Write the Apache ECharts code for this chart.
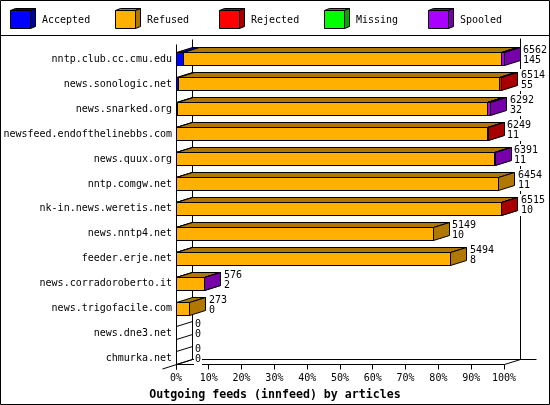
<!DOCTYPE html>
<html><head><meta charset="utf-8">
<script src="https://cdn.jsdelivr.net/npm/echarts@6/dist/echarts.min.js"></script>
<style>html,body{margin:0;padding:0;background:#fff}#c{width:550px;height:405px}</style>
</head><body><div id="c"></div>
<script>
const categories = ['nntp.club.cc.cmu.edu','news.sonologic.net','news.snarked.org','newsfeed.endofthelinebbs.com','news.quux.org','nntp.comgw.net','nk-in.news.weretis.net','news.nntp4.net','feeder.erje.net','news.corradoroberto.it','news.trigofacile.com','news.dne3.net','chmurka.net'];
const offered  = [6562,6514,6292,6249,6391,6454,6515,5149,5494,576,273,0,0];
const accepted = [145,55,32,11,11,11,10,10,8,2,0,0,0];
const refused  = [6357,6419,6190,6228,6370,6443,6495,5139,5486,569,273,0,0];
const rejected = [0,40,15,10,0,0,10,0,0,0,0,0,0];
const missing  = [0,0,0,0,0,0,0,0,0,0,0,0,0];
const spooled  = [60,0,55,0,10,0,0,0,0,5,0,0,0];
const seriesNames = ['Accepted','Refused','Rejected','Missing','Spooled'];
const frontColors = ['#0000ff','#ffb000','#ff0000','#00ff00','#aa00ff'];
const darkColors  = ['#0000a8','#b07800','#a80000','#00a800','#7700aa'];
const xTicks = [0,10,20,30,40,50,60,70,80,90,100];
const titleText = 'Outgoing feeds (innfeed) by articles';

const FONT = '"DejaVu Sans Mono", monospace';
const DX = 16, DY = 5, HH = 6.5;
const segs = [accepted, refused, rejected, missing, spooled];
const maxOff = Math.max(...offered);
const r = v => Math.round(v - 0.5) + 0.5;

const starts = segs.map(() => []);
const ends = segs.map(() => []);
categories.forEach((c, i) => {
  let acc = 0;
  segs.forEach((arr, k) => {
    starts[k][i] = acc / maxOff * 100;
    acc += arr[i];
    ends[k][i] = acc / maxOff * 100;
  });
});
const totalEnd = categories.map((c, i) => ends[4][i]);

function boxSeries(k) {
  return {
    type: 'custom', name: seriesNames[k], z: 3 + k,
    encode: { x: [0, 1], y: 2 },
    data: categories.map((c, i) => [starts[k][i], ends[k][i], i]),
    renderItem: function (params, api) {
      const s = api.value(0), e = api.value(1), idx = api.value(2);
      const p0 = api.coord([s, idx]), p1 = api.coord([e, idx]);
      const x0 = r(p0[0]), x1 = r(p1[0]);
      const yt = r(p0[1] - HH), yb = r(p0[1] + HH);
      if (e - s <= 0) {
        if (k === 0 && offered[idx] === 0) {
          return { type: 'group', children: [
            { type: 'line', shape: { x1: x0, y1: yt, x2: x0 + DX, y2: yt - DY }, style: { stroke: '#000', lineWidth: 1 } },
            { type: 'line', shape: { x1: x0, y1: yb, x2: x0 + DX, y2: yb - DY }, style: { stroke: '#000', lineWidth: 1 } }
          ] };
        }
        return null;
      }
      const st = { stroke: '#000', lineWidth: 1 };
      return { type: 'group', children: [
        { type: 'polygon', shape: { points: [[x0, yt], [x0 + DX, yt - DY], [x1 + DX, yt - DY], [x1, yt]] }, style: Object.assign({ fill: darkColors[k] }, st) },
        { type: 'polygon', shape: { points: [[x1, yt], [x1 + DX, yt - DY], [x1 + DX, yb - DY], [x1, yb]] }, style: Object.assign({ fill: darkColors[k] }, st) },
        { type: 'rect', shape: { x: x0, y: yt, width: x1 - x0, height: yb - yt }, style: Object.assign({ fill: frontColors[k] }, st) }
      ] };
    }
  };
}

const frameSeries = {
  type: 'custom', z: 1, silent: true,
  encode: { x: 0, y: 1 },
  data: [[0, 0]],
  renderItem: function (params, api) {
    const n = categories.length;
    const xL = r(api.coord([0, 0])[0]);
    const xR = r(api.coord([100, 0])[0]);
    const yTop = r(api.coord([0, 0])[1] - HH - 8);
    const yF = r(api.coord([0, n - 1])[1] + HH);
    const st = { stroke: '#000', lineWidth: 1 };
    const L = (a, b, c, d) => ({ type: 'line', shape: { x1: a, y1: b, x2: c, y2: d }, style: st });
    const ch = [
      L(xL, yTop, xL, yF + 5),
      L(xL + DX, yTop - DY, xL + DX, yF - DY),
      L(xR + DX, yTop - DY - 1, xR + DX, yF - DY),
      L(xL + DX, yF - DY, xR + 2 * DX, yF - DY),
      L(xL, yF, xR, yF),
      L(xL - 14, yF + 4.5, xL + DX, yF - DY),
      L(xR, yF, xR + DX, yF - DY)
    ];
    xTicks.forEach(t => { const x = r(api.coord([t, 0])[0]); ch.push(L(x, yF, x, yF + 5)); });
    return { type: 'group', children: ch };
  }
};

const labelSeries = {
  type: 'custom', z: 20, silent: true,
  encode: { x: 0, y: 1 },
  data: categories.map((c, i) => [totalEnd[i], i]),
  renderItem: function (params, api) {
    const idx = api.value(1);
    const p = api.coord([api.value(0), idx]);
    return { type: 'text', style: {
      text: offered[idx] + '\n' + accepted[idx],
      x: Math.round(p[0]) + DX + 2, y: Math.round(p[1]) - 15,
      font: '10px ' + FONT, fill: '#000', lineHeight: 10.5,
      align: 'left', verticalAlign: 'top',
      backgroundColor: '#fff', padding: [1, 1, 0, 1]
    } };
  }
};

const legendGraphics = [];
seriesNames.forEach((nm, k) => {
  const x0 = 10.5 + Math.round(k * 104.5), y0 = 10.5;
  legendGraphics.push(
    { type: 'polygon', shape: { points: [[x0, y0], [x0 + 5, y0 - 2], [x0 + 25, y0 - 2], [x0 + 20, y0]] }, style: { fill: darkColors[k], stroke: '#000', lineWidth: 1 } },
    { type: 'polygon', shape: { points: [[x0 + 20, y0], [x0 + 25, y0 - 2], [x0 + 25, y0 + 16], [x0 + 20, y0 + 18]] }, style: { fill: darkColors[k], stroke: '#000', lineWidth: 1 } },
    { type: 'rect', shape: { x: x0, y: y0, width: 20, height: 18 }, style: { fill: frontColors[k], stroke: '#000', lineWidth: 1 } },
    { type: 'text', x: x0 + 31.5, y: 20, style: { text: nm, font: '10px ' + FONT, fill: '#000', verticalAlign: 'middle' } }
  );
});

const chart = echarts.init(document.getElementById('c'), null, { renderer: 'canvas' });
chart.setOption({
  animation: false,
  backgroundColor: '#fff',
  title: { text: titleText, left: 'center', top: 384, textStyle: { fontFamily: FONT, fontWeight: 'bold', fontSize: 11.6, color: '#000' } },
  grid: { left: 176, right: 46, top: 47.05, bottom: 34.25, containLabel: false },
  xAxis: { type: 'value', min: 0, max: 100, interval: 10,
    axisLine: { show: false }, axisTick: { show: false }, splitLine: { show: false },
    axisLabel: { formatter: '{value}%', margin: 3, fontFamily: FONT, fontSize: 10, color: '#000' } },
  yAxis: { type: 'category', data: categories, inverse: true,
    axisLine: { show: false }, axisTick: { show: false }, splitLine: { show: false },
    axisLabel: { margin: 4, fontFamily: FONT, fontSize: 10, color: '#000' } },
  graphic: [
    { type: 'rect', shape: { x: 0.5, y: 0.5, width: 549, height: 404 }, style: { fill: null, stroke: '#000', lineWidth: 1 }, z: 100 },
    { type: 'line', shape: { x1: 0, y1: 35.5, x2: 550, y2: 35.5 }, style: { stroke: '#000', lineWidth: 1 } }
  ].concat(legendGraphics),
  series: [frameSeries].concat(seriesNames.map((n, k) => boxSeries(k))).concat([labelSeries])
});
</script></body></html>
